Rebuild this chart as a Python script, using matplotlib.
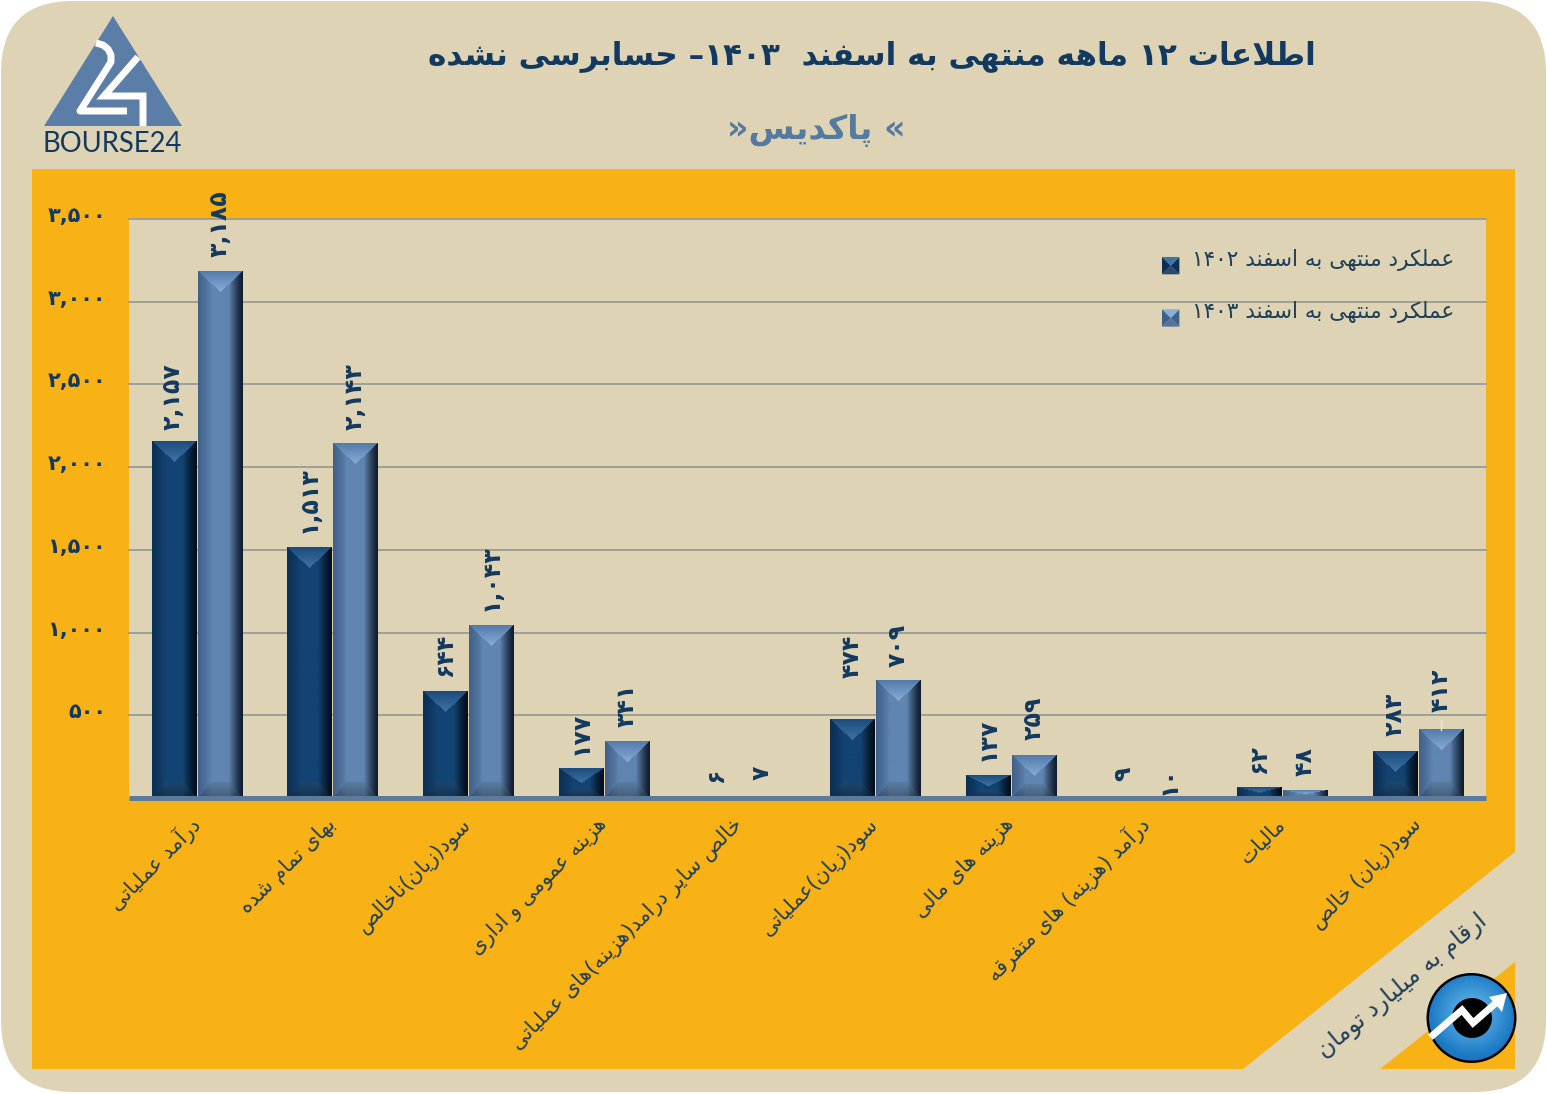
import re
import numpy as np
import matplotlib
matplotlib.use("Agg")
import matplotlib.pyplot as plt
from matplotlib.patches import FancyBboxPatch, Polygon, Rectangle, Circle
from matplotlib.legend_handler import HandlerBase
from matplotlib.transforms import ScaledTranslation

# ---------- data ----------
categories = ["درآمد عملیاتی", "بهای تمام شده", "سود(زیان)ناخالص", "هزینه عمومی و اداری",
              "خالص سایر درامد(هزینه)های عملیاتی", "سود(زیان)عملیاتی", "هزینه های مالی",
              "درآمد (هزینه) های متفرقه", "مالیات", "سود(زیان) خالص"]
values_1402 = [2157, 1513, 644, 177, 6, 474, 137, 9, 62, 283]
values_1403 = [3185, 2143, 1043, 341, 7, 709, 259, 10, 48, 412]
y_ticks = [500, 1000, 1500, 2000, 2500, 3000, 3500]
label_1402 = "عملکرد منتهی به اسفند ۱۴۰۲"
label_1403 = "عملکرد منتهی به اسفند ۱۴۰۳"
title = "اطلاعات ۱۲ ماهه منتهی به اسفند  ۱۴۰۳– حسابرسی نشده"
subtitle = "\u00ab پاکدیس\u00bb"
unit_note = "ارقام به میلیارد تومان"

# label gaps above the bars, in pixels
gaps_1402 = [11, 15, 15, 14, 15, 42, 14, 16, 15, 15]
gaps_1403 = [14, 13, 14, 15, 17, 14, 15, 1, 14, 18]

# ---------- Arabic shaping (matplotlib has no text shaping of its own) ----------
def _f(a, b=None):
    n = 4 if b is None else b
    return tuple(a + i for i in range(n))

FORMS = {'آ': _f(0xFE81, 2), 'ا': _f(0xFE8D, 2), 'ب': _f(0xFE8F), 'پ': _f(0xFB56), 'ت': _f(0xFE95),
         'ث': _f(0xFE99), 'ج': _f(0xFE9D), 'چ': _f(0xFB7A), 'ح': _f(0xFEA1), 'خ': _f(0xFEA5),
         'د': _f(0xFEA9, 2), 'ذ': _f(0xFEAB, 2), 'ر': _f(0xFEAD, 2), 'ز': _f(0xFEAF, 2), 'ژ': _f(0xFB8A, 2),
         'س': _f(0xFEB1), 'ش': _f(0xFEB5), 'ص': _f(0xFEB9), 'ض': _f(0xFEBD), 'ط': _f(0xFEC1), 'ظ': _f(0xFEC5),
         'ع': _f(0xFEC9), 'غ': _f(0xFECD), 'ف': _f(0xFED1), 'ق': _f(0xFED5), 'ک': _f(0xFB8E), 'گ': _f(0xFB92),
         'ل': _f(0xFEDD), 'م': _f(0xFEE1), 'ن': _f(0xFEE5), 'ه': _f(0xFEE9), 'و': _f(0xFEED, 2), 'ی': _f(0xFBFC)}

def shape(s):
    s = s.replace('لا', '\uFEFB').replace('لآ', '\uFEF5')
    out = []
    lig = {'\uFEFB': 0xFEFB, '\uFEF5': 0xFEF5}
    def joins_next(c):
        return c in FORMS and len(FORMS[c]) == 4
    def joins_prev(c):
        return c in FORMS or c in lig
    for i, c in enumerate(s):
        prev_c = s[i - 1] if i else ''
        next_c = s[i + 1] if i + 1 < len(s) else ''
        p = joins_next(prev_c)
        n = joins_prev(next_c)
        if c in lig:
            out.append(chr(lig[c] + (1 if p else 0)))
        elif c in FORMS:
            f = FORMS[c]
            if len(f) == 2:
                out.append(chr(f[1] if p else f[0]))
            else:
                out.append(chr(f[3] if p and n else f[1] if p else f[2] if n else f[0]))
        else:
            out.append(c)
    tokens = re.findall(r'[۰-۹][۰-۹,]*|.', ''.join(out))
    mirror = {'(': ')', ')': '('}
    return ''.join(mirror.get(t, t) for t in reversed(tokens))

def fa(n):
    return f"{n:,}".translate(str.maketrans("0123456789", "۰۱۲۳۴۵۶۷۸۹"))

# ---------- colours ----------
BEIGE = "#DFD3B6"
ORANGE = "#F9B216"
NAVY = "#12395F"
TEXT = "#1E3F58"
STEEL = "#557A9F"
PAL_1402 = dict(left="#0C2F54", mid="#134373", right="#040E1A", top0="#1B4C7C", top1="#3F74A6", bot="#274A6B")
PAL_1403 = dict(left="#40628A", mid="#6085B1", right="#0E1B2D", top0="#527AA9", top1="#8BADD8", bot="#557594")

def rgb(h):
    return np.array(matplotlib.colors.to_rgb(h))

def bevel_image(h_px, pal, w_px=45):
    h_px = max(int(round(h_px)), 1)
    u = (np.arange(w_px) + .5) / w_px
    v = np.arange(h_px) + .5
    U, V = np.meshgrid(u, v)
    left, mid, right = rgb(pal["left"]), rgb(pal["mid"]), rgb(pal["right"])
    t = np.where(U < .5, U / .5, (1 - U) / .5)[..., None]
    side = np.where(U[..., None] < .5, left, right)
    img = side + (mid - side) * np.clip(t * 1.6, 0, 1) ** 1.3
    # top triangular facet
    tri = 1 - np.abs(2 * U - 1)
    depth = min(21.0, h_px / 2.0)
    mask = V < depth * tri
    shade = np.clip(V / depth, 0, 1)[..., None]
    top = rgb(pal["top0"]) + (rgb(pal["top1"]) - rgb(pal["top0"])) * shade
    img = np.where(mask[..., None], top, img)
    # bottom facet, fading into the bar body
    dbot = min(16.0, h_px / 3.0)
    Vb = h_px - V
    mask_b = Vb < dbot * np.clip(tri * 1.7, 0, 1)
    mix = np.clip(1 - Vb / max(dbot, 1), 0, 1)[..., None]
    bot = rgb(pal["bot"]) * (1 - .55 * mix)
    img = np.where(mask_b[..., None], .5 * bot + .5 * img, img)
    return np.clip(img, 0, 1)

class BevelHandler(HandlerBase):
    def __init__(self, pal):
        super().__init__()
        self.pal = pal

    def create_artists(self, legend, orig, xd, yd, w, h, fs, trans):
        x0, y0 = -xd, -yd - 6
        s = 12.5
        cx, cy = x0 + s / 2, y0 + s / 2
        c = [(x0, y0), (x0 + s, y0), (x0 + s, y0 + s), (x0, y0 + s)]
        cols = [self.pal["bot"], self.pal["left"], self.pal["top1"], self.pal["left"]]
        return [Polygon([c[i], c[(i + 1) % 4], (cx, cy)], closed=True, fc=cols[i], ec="none", transform=trans)
                for i in range(4)]

# ---------- figure ----------
W, H = 1547, 1094
fig = plt.figure(figsize=(W / 100, H / 100), dpi=100, facecolor="white")
plt.rcParams['font.family'] = ['DejaVu Sans']

bg = fig.add_axes([0, 0, 1, 1], zorder=0)
bg.set_xlim(0, W)
bg.set_ylim(H, 0)
bg.axis("off")
bg.add_patch(FancyBboxPatch((1, 1), W - 2, H - 3, boxstyle="round,pad=0,rounding_size=72", fc=BEIGE, ec="none"))
bg.add_patch(Rectangle((32, 169), 1483, 900, fc=ORANGE, ec="none"))
bg.add_patch(Polygon([(1515, 852), (1243, 1069), (1380, 1069), (1515, 962)], closed=True, fc=BEIGE, ec="none"))

# titles
bg.text(872, 56, shape(title), ha="center", va="center", fontsize=22.4, fontweight="bold", color=NAVY)
bg.text(816, 130, shape(subtitle), ha="center", va="center", fontsize=24, fontweight="bold", color=STEEL)

# BOURSE24 logo
bg.add_patch(Polygon([(113, 16), (44, 126), (182, 126)], closed=True, fc="#5A7EA8", ec="none"))
bg.plot([96, 103, 108, 111, 111, 80, 127], [43, 45, 49, 55, 62, 111, 111], color="white", lw=5, solid_joinstyle="round",
        solid_capstyle="butt")
bg.plot([138, 104, 143, 143], [57, 96, 96, 126], color="white", lw=5, solid_joinstyle="miter", solid_capstyle="butt")
bg.text(112.5, 144, "BOURSE24", ha="center", va="center", fontsize=19.8, family="Lato", color=NAVY)

# bottom-right note and badge
bg.text(1402, 986, shape(unit_note), ha="center", va="center", rotation=39.5, rotation_mode="anchor",
        fontsize=17, color=TEXT)
bg.add_patch(Circle((1471.5, 1018), 45, fc="black", ec="none", zorder=3))
yy, xx = np.mgrid[-1:1:120j, -1:1:120j]
rr = np.clip(np.hypot(xx, yy + .1), 0, 1)[..., None]
grad = rgb("#6DC2F0") + (rgb("#1B78C4") - rgb("#6DC2F0")) * rr
im = bg.imshow(grad, extent=(1428.5, 1514.5, 1061, 975), aspect="auto", zorder=4)
im.set_clip_path(Circle((1471.5, 1018), 42.5, transform=bg.transData))
bg.add_patch(Circle((1472, 1018), 20, fc="black", ec="none", zorder=5))
bg.plot([1433, 1462, 1473, 1497], [1035, 1010, 1023, 1002], color="white", lw=5, zorder=6, solid_joinstyle="miter")
bg.add_patch(Polygon([(1489, 997), (1507, 993), (1502, 1012)], closed=True, fc="white", ec="none", zorder=6))
bg.set_xlim(0, W)
bg.set_ylim(H, 0)

# main chart
ax = fig.add_axes([129 / W, (H - 798) / H, (1486 - 129) / W, (798 - 219) / H], zorder=1, facecolor=BEIGE)
for s in ax.spines.values():
    s.set_visible(False)
n = len(categories)
x = np.arange(n)
offset, width = 0.17, 0.328
ax.set_axisbelow(True)
ax.yaxis.grid(True, color="#9B9B93", lw=1.3)
ax.xaxis.grid(False)

px_per_unit = (798 - 219) / 3500
series = [(values_1402, gaps_1402, PAL_1402, -offset, label_1402), (values_1403, gaps_1403, PAL_1403, offset, label_1403)]
bar_handles = []
for vals, gaps, pal, off, lab in series:
    bars = ax.bar(x + off, vals, width=width, color=pal["mid"], label=shape(lab), zorder=2)
    bar_handles.append(bars)
    for b, v, g in zip(bars, vals, gaps):
        img = bevel_image(v * px_per_unit, pal)
        ax.imshow(img, extent=(b.get_x(), b.get_x() + b.get_width(), 0, v), aspect="auto", zorder=2.5,
                  interpolation="bilinear")
        ax.annotate(fa(v), (b.get_x() + b.get_width() / 2, v), xytext=(-0.5, g * .72), textcoords="offset points",
                    rotation=90, ha="center", va="bottom", fontsize=17, fontweight="bold", color=NAVY, zorder=5,
                    annotation_clip=False)

# thin leader line above the last bar
last = bar_handles[1][-1]
ax.plot([last.get_x() + last.get_width() / 2] * 2, [values_1403[-1], values_1403[-1] + 10 / px_per_unit],
        color="#EFE8D5", lw=1, zorder=3)

ax.axhline(0, color="#5B7A9C", lw=3.6, zorder=4, clip_on=False, solid_capstyle="butt")
ax.set_xlim(-.5, n - .5)
ax.set_ylim(0, 3500)

ax.set_yticks(y_ticks)
ax.set_yticklabels([fa(v) for v in y_ticks], fontsize=15, fontweight="bold", color=NAVY)
ax.tick_params(axis="y", length=0, pad=16.5)
shift = ScaledTranslation(0, 5 / 100, fig.dpi_scale_trans)
for t in ax.get_yticklabels():
    t.set_transform(t.get_transform() + shift)
for g in ax.get_ygridlines():
    g.set_clip_on(False)

ax.set_xticks(x)
ax.set_xticklabels([shape(c) for c in categories], rotation=45, ha="right", va="center", rotation_mode="anchor",
                   fontsize=14.8, color=TEXT)
ax.tick_params(axis="x", length=0, pad=17)

leg = ax.legend(handles=[bar_handles[0], bar_handles[1]], labels=[shape(label_1402), shape(label_1403)],
                handler_map={bar_handles[0]: BevelHandler(PAL_1402), bar_handles[1]: BevelHandler(PAL_1403)},
                loc="upper left", bbox_to_anchor=((1162 - 129) / 1357, (798 - 249) / 579), frameon=False, fontsize=15.6,
                handlelength=.8, handletextpad=.58, labelspacing=1.4, borderpad=0, borderaxespad=0,
                labelcolor=TEXT)
leg.set_zorder(6)

fig.savefig("out.png", dpi=100, facecolor=fig.get_facecolor())
